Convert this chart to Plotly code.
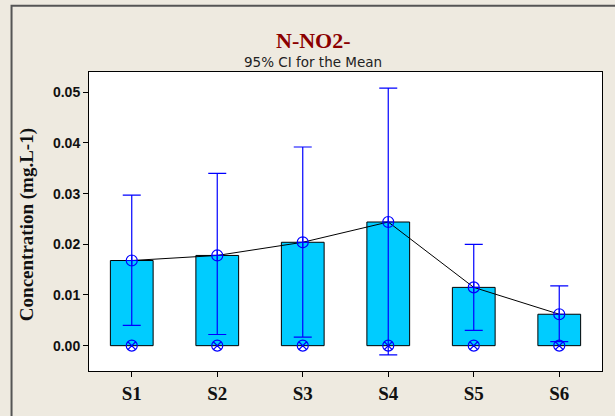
import plotly.graph_objects as go

# Sites and N-NO2- concentration statistics (mg.L-1)
sites = ["S1", "S2", "S3", "S4", "S5", "S6"]
means = [0.0168, 0.0178, 0.0204, 0.0244, 0.0115, 0.0062]
ci_upper = [0.0297, 0.0340, 0.0392, 0.0508, 0.0200, 0.0118]
ci_lower = [0.0040, 0.0022, 0.0017, -0.0018, 0.0030, 0.0008]
zeros = [0, 0, 0, 0, 0, 0]

y_ticks = [0.00, 0.01, 0.02, 0.03, 0.04, 0.05]

err_plus = [u - m for u, m in zip(ci_upper, means)]
err_minus = [m - l for m, l in zip(means, ci_lower)]

BLUE = "#0000FF"
BAR_FILL = "#00CCFF"
PAPER = "#EEEAE0"

fig = go.Figure()

# Mean bars
fig.add_trace(go.Bar(
    x=sites, y=means, width=0.5,
    marker=dict(color=BAR_FILL, line=dict(color="#000000", width=1)),
    hoverinfo="skip", showlegend=False,
))

# Line joining the means
fig.add_trace(go.Scatter(
    x=sites, y=means, mode="lines",
    line=dict(color="#000000", width=1),
    hoverinfo="skip", showlegend=False,
))

# 95% confidence intervals with mean symbols
fig.add_trace(go.Scatter(
    x=sites, y=means, mode="markers",
    marker=dict(symbol="circle-cross-open", size=11, color=BLUE,
                line=dict(color=BLUE, width=1.2)),
    error_y=dict(type="data", symmetric=False, array=err_plus,
                 arrayminus=err_minus, color=BLUE, thickness=1.2, width=9),
    showlegend=False,
))

# Symbols at the baseline
fig.add_trace(go.Scatter(
    x=sites, y=zeros, mode="markers",
    marker=dict(symbol="circle-x-open", size=11, color=BLUE,
                line=dict(color=BLUE, width=1.2)),
    hoverinfo="skip", showlegend=False,
))

fig.update_layout(
    width=615, height=416,
    margin=dict(l=89, r=13, t=72, b=43),
    paper_bgcolor=PAPER,
    plot_bgcolor="#FFFFFF",
    bargap=0.5,
    showlegend=False,
    xaxis=dict(
        type="category", range=[-0.5, 5.5],
        showgrid=False, zeroline=False,
        showline=True, linecolor="#000000", linewidth=1, mirror=True,
        ticks="outside", ticklen=5, tickcolor="#000000",
        tickfont=dict(family="Liberation Serif", size=19, color="#111111", weight="bold"),
    ),
    yaxis=dict(
        range=[-0.005, 0.054],
        tickvals=y_ticks, tickformat=".2f",
        showgrid=False, zeroline=False,
        showline=True, linecolor="#000000", linewidth=1, mirror=True,
        ticks="outside", ticklen=5, tickcolor="#000000",
        tickfont=dict(family="Liberation Sans", size=14, color="#111111", weight="bold"),
    ),
    annotations=[
        dict(text="N-NO2-", xref="paper", yref="paper", x=0.4375, y=1.105,
             xanchor="center", yanchor="middle", showarrow=False,
             font=dict(family="Liberation Serif", size=22, color="#8B0000", weight="bold")),
        dict(text="95% CI for the Mean", xref="paper", yref="paper", x=0.4375, y=1.032,
             xanchor="center", yanchor="middle", showarrow=False,
             font=dict(family="DejaVu Sans", size=13.5, color="#222222")),
        dict(text="Concentration (mg.L-1)", xref="paper", yref="paper", x=-0.1196, y=0.49,
             xanchor="center", yanchor="middle", textangle=-90, showarrow=False,
             font=dict(family="Liberation Serif", size=19, color="#111111", weight="bold")),
    ],
    shapes=[
        # outer frame around the graph
        dict(type="rect", xref="paper", yref="paper",
             x0=-0.151, x1=1.04, y0=-0.18, y1=1.2217,
             line=dict(color="#555555", width=2), layer="below"),
    ],
)

fig.write_html("out.html")
